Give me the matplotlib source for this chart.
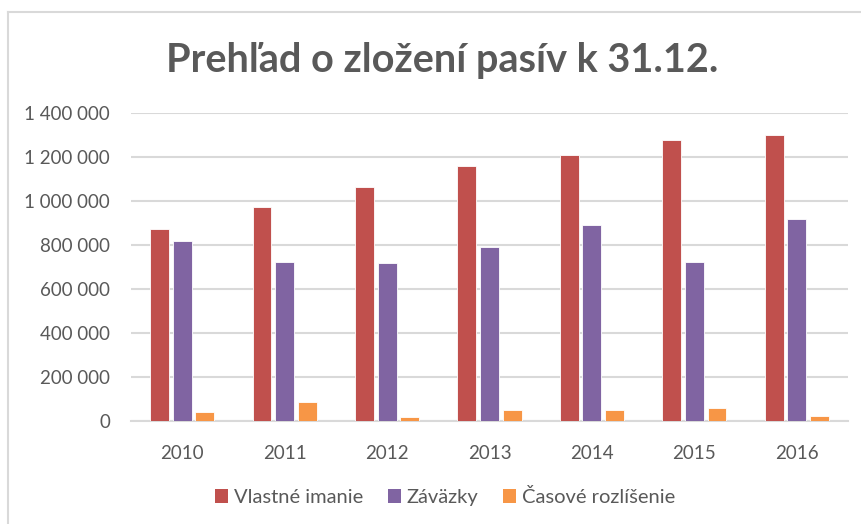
import matplotlib
matplotlib.use("Agg")
import matplotlib.pyplot as plt
import numpy as np
from matplotlib.patches import Patch
from matplotlib.lines import Line2D

years = ["2010", "2011", "2012", "2013", "2014", "2015", "2016"]
vlastne_imanie = [875000, 975000, 1064000, 1158000, 1211000, 1276000, 1300000]
zavazky = [820000, 723000, 719000, 790000, 893000, 725000, 917000]
casove_rozlisenie = [40000, 85000, 17000, 50000, 50000, 58000, 23000]
series_names = ["Vlastné imanie", "Záväzky", "Časové rozlíšenie"]
colors = ["#C0504D", "#8064A2", "#F79646"]
yticks = [0, 200000, 400000, 600000, 800000, 1000000, 1200000, 1400000]
title = "Prehľad o zložení pasív k 31.12."

plt.rcParams['font.family'] = ['Lato', 'DejaVu Sans']

W, H = 862, 524
fig = plt.figure(figsize=(W / 100, H / 100), dpi=100)
ax = fig.add_axes([131 / W, 1 - 421 / H, (848 - 131) / W, (421 - 113) / H])

x = np.arange(len(years))
pitch = 0.221
width = 0.185
for i, (vals, c) in enumerate(zip([vlastne_imanie, zavazky, casove_rozlisenie], colors)):
    ax.bar(x + (i - 1) * pitch, vals, width=width, color=c, edgecolor="white",
           linewidth=0.6, zorder=3, label=series_names[i])

ax.set_xlim(-0.5, len(years) - 0.5)
ax.set_ylim(0, 1400000)
ax.set_yticks(yticks)
ax.set_yticklabels([f"{v:,}".replace(",", " ") for v in yticks])
ax.set_xticks(x)
ax.set_xticklabels(years)
ax.yaxis.grid(True, color="#d9d9d9", linewidth=1.5, zorder=0)
for s in ["top", "right", "left"]:
    ax.spines[s].set_visible(False)
ax.spines["bottom"].set_color("#d9d9d9")
ax.spines["bottom"].set_linewidth(1.5)
ax.tick_params(axis="both", length=0, colors="#595959", labelsize=13.5)
ax.tick_params(axis="y", pad=15)
ax.tick_params(axis="x", pad=17)

fig.text(442 / W, 1 - 61 / H, title, ha="center", va="center",
         fontsize=28.5, fontweight="bold", color="#595959")

handles = [Patch(facecolor=c, edgecolor="none") for c in colors]
fig.legend(handles, series_names, loc="center", bbox_to_anchor=(445 / W, 1 - 497 / H),
           ncol=3, frameon=False, fontsize=14.5, labelcolor="#595959",
           handlelength=0.65, handleheight=0.65, handletextpad=0.3, columnspacing=1.2)

# chart border (light grey)
fig.add_artist(Line2D([8.5 / W, 8.5 / W], [0, 1 - 12 / H], transform=fig.transFigure,
                      color="#d9d9d9", linewidth=1.5))
fig.add_artist(Line2D([8.5 / W, 1], [1 - 12 / H, 1 - 12 / H], transform=fig.transFigure,
                      color="#d9d9d9", linewidth=1.5))

fig.savefig("out.png", dpi=100, facecolor="white")
